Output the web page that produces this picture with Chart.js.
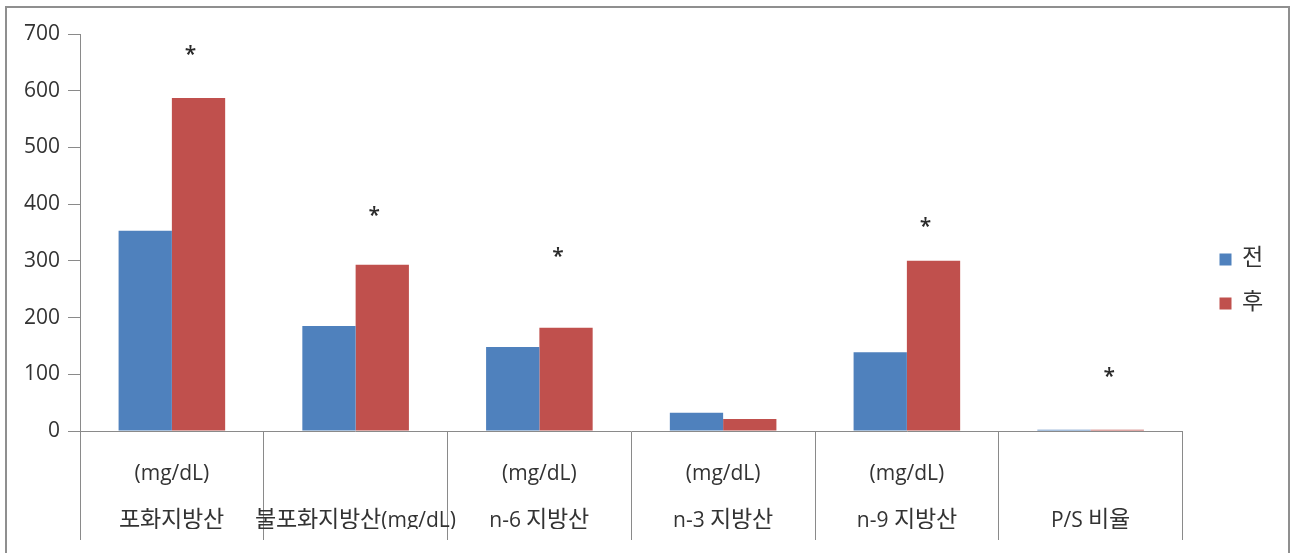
<!DOCTYPE html>
<html lang="ko">
<head>
<meta charset="utf-8">
<title>지방산 섭취 전후 비교</title>
<script src="https://cdn.jsdelivr.net/npm/chart.js@4/dist/chart.umd.min.js"></script>
<style>
  /* Hangul face scaled up a little so it sits well next to the Latin text */
  @font-face {
    font-family: 'HangulWide';
    src: local('Noto Sans CJK KR'), local('Noto Sans CJK KR Regular'), local('NotoSansCJKkr-Regular');
    size-adjust: 110%;
    unicode-range: U+1100-11FF, U+3130-318F, U+AC00-D7AF;
  }
  html, body { margin: 0; padding: 0; background: #ffffff; }
  #frame {
    position: absolute; left: 5px; top: 6px;
    width: 1281px; height: 600px;
    border: 2px solid #8f8f8f; background: #ffffff; overflow: hidden;
  }
  canvas { display: block; }
</style>
</head>
<body>
<div id="frame"><canvas id="chart" width="1281" height="545"></canvas></div>
<script>
// Category labels (two lines each: unit line, then name line)
const categories = [
  ['(mg/dL)', '포화지방산'],
  ['', '불포화지방산(mg/dL)'],
  ['(mg/dL)', 'n-6 지방산'],
  ['(mg/dL)', 'n-3 지방산'],
  ['(mg/dL)', 'n-9 지방산'],
  ['', 'P/S 비율']
];
const seriesNames = ['전', '후'];
const beforeValues = [353, 185, 148, 32, 139, 2];
const afterValues = [587, 293, 182, 21, 300, 2];
// Height (in axis units) of the significance marker above each group; null = none
const markerLevels = [671, 388, 316, null, 369, 104];
const markerText = '*';
const yTicks = [0, 100, 200, 300, 400, 500, 600, 700];

const FONT = "'Open Sans', 'HangulWide', 'Noto Sans CJK KR', sans-serif";
const TEXT = '#333333';
const AXIS = '#8a8a8a';

// Draws the "*" marks next to the 후 bars, positioned through the scales
const markerPlugin = {
  id: 'markers',
  afterDatasetsDraw(chart) {
    const { ctx } = chart;
    const y = chart.scales.y;
    const afterMeta = chart.getDatasetMeta(1);
    ctx.save();
    ctx.fillStyle = '#2a2a2a';
    ctx.font = '600 21px ' + FONT;
    ctx.textAlign = 'center';
    ctx.textBaseline = 'middle';
    markerLevels.forEach((lvl, i) => {
      if (lvl === null) return;
      const bar = afterMeta.data[i];
      ctx.fillText(markerText, bar.x - 8, y.getPixelForValue(lvl) + 5);
    });
    ctx.restore();
  }
};

// Moves the legend block a little further right inside its column
const legendShift = {
  id: 'legendShift',
  afterLayout(chart) {
    if (chart.legend) {
      chart.legend.left += 14;
      chart.legend.right += 14;
    }
  }
};

function draw() {
  new Chart(document.getElementById('chart'), {
    type: 'bar',
    data: {
      labels: categories,
      datasets: [
        { label: seriesNames[0], data: beforeValues, backgroundColor: '#4F81BD' },
        { label: seriesNames[1], data: afterValues, backgroundColor: '#C0504D' }
      ]
    },
    options: {
      responsive: false,
      animation: false,
      devicePixelRatio: 1,
      layout: { padding: { top: 26, right: 29, bottom: 24, left: 0 } },
      datasets: { bar: { categoryPercentage: 0.58, barPercentage: 1.0 } },
      plugins: {
        tooltip: { enabled: false },
        legend: {
          position: 'right',
          labels: {
            boxWidth: 12, boxHeight: 12, padding: 23,
            color: TEXT, font: { family: FONT, size: 21 }
          }
        }
      },
      scales: {
        x: {
          grid: {
            offset: true, drawOnChartArea: false, drawTicks: true,
            tickLength: 109, color: AXIS, lineWidth: 1
          },
          border: { display: true, color: AXIS, width: 1 },
          ticks: {
            color: TEXT, padding: -89.5,
            maxRotation: 0, minRotation: 0, autoSkip: false,
            font: { family: FONT, size: 21, lineHeight: 47 / 21 }
          },
          afterFit(scale) { scale.height = 98; }
        },
        y: {
          min: 0, max: 700,
          afterBuildTicks(scale) { scale.ticks = yTicks.map(v => ({ value: v })); },
          grid: { drawOnChartArea: false, tickLength: 12, color: AXIS, lineWidth: 1 },
          border: { display: true, color: AXIS, width: 1 },
          ticks: { color: TEXT, padding: 8, font: { family: FONT, size: 21 } },
          afterFit(scale) { scale.width = 73; }
        }
      }
    },
    plugins: [markerPlugin, legendShift]
  });
}

document.fonts.load("21px 'HangulWide'", '포화지방산전후')
  .then(draw, draw);
</script>
</body>
</html>
